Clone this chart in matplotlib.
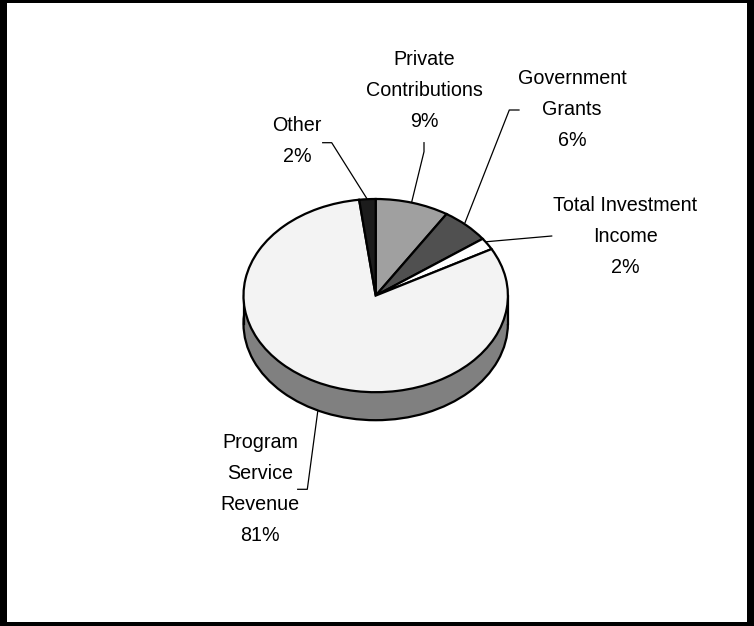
import matplotlib
matplotlib.use('Agg')
import matplotlib.pyplot as plt
from matplotlib.patches import Rectangle

plt.rcParams['font.family'] = ['Liberation Sans', 'DejaVu Sans']

# data
categories = ['Private\nContributions', 'Government\nGrants', 'Total Investment\nIncome',
              'Program\nService\nRevenue', 'Other']
shares = [9, 6, 2, 81, 2]
colors = ['#a0a0a0', '#505050', '#ffffff', '#f3f3f3', '#1c1c1c']

# layout, all in pixels of the 754x626 picture
W, H = 754, 626
cx, cy = 375.7, 295.6
rx, ry = 132.2, 96.6
depth = 28
label_pos = [(424.5, 90.3), (572, 109.8), (625.5, 236.3), (260, 488.8), (297, 141.3)]
leaders = [
    [(424, 142.7), (424, 151.7), (411.7, 202)],
    [(519, 110), (509.3, 110), (465, 222.7)],
    [(551.7, 236), (486.7, 241.7)],
    [(297.7, 489.3), (307.3, 489.3), (317.7, 411.7)],
    [(322.7, 142.7), (331.7, 142.7), (366.7, 198.3)],
]

fig = plt.figure(figsize=(W / 100, H / 100), dpi=100, facecolor='white')

# pie axes: one data unit is one radius, squashed to an ellipse
ax = fig.add_axes([0, 0, 1, 1])
edge = dict(edgecolor='black', linewidth=1.6)

# side wall, then top
ax.pie(shares, colors=['#808080'] * len(shares), startangle=90, counterclock=False,
       center=(0, -depth / ry), radius=1, wedgeprops=dict(edgecolor='#808080', linewidth=0))
ax.pie([1], colors=['none'], center=(0, -depth / ry), radius=1, wedgeprops=edge)
ax.add_patch(Rectangle((-1, -depth / ry), 2, depth / ry, facecolor='#808080',
                       edgecolor='none', zorder=1.5))
ax.plot([-1, -1], [0, -depth / ry], color='black', lw=1.6, zorder=1.6)
ax.plot([1, 1], [0, -depth / ry], color='black', lw=1.6, zorder=1.6)
wedges, _ = ax.pie(shares, colors=colors, startangle=90, counterclock=False,
                   radius=1, wedgeprops=edge)
for w in wedges:
    w.set_zorder(2)

ax.set_aspect('auto')
ax.set_xlim(-cx / rx, (W - cx) / rx)
ax.set_ylim((cy - H) / ry, cy / ry)
ax.axis('off')

# overlay in pixel coordinates for labels and leader lines
ov = fig.add_axes([0, 0, 1, 1], facecolor='none')
ov.set_xlim(0, W)
ov.set_ylim(H, 0)
ov.axis('off')

for name, share, (x, y), pts in zip(categories, shares, label_pos, leaders):
    ov.text(x, y, f'{name}\n{share}%', ha='center', va='center', fontsize=14.2,
            linespacing=1.8, color='black')
    ov.plot([p[0] for p in pts], [p[1] for p in pts], color='black', lw=0.9)

# black frame around the picture
for r in [(0, 0, W, 3), (0, H - 4, W, 4), (0, 0, 7, H), (W - 7, 0, 7, H)]:
    ov.add_patch(Rectangle((r[0], r[1]), r[2], r[3], facecolor='black', edgecolor='none'))

fig.savefig('out.png', dpi=100)
